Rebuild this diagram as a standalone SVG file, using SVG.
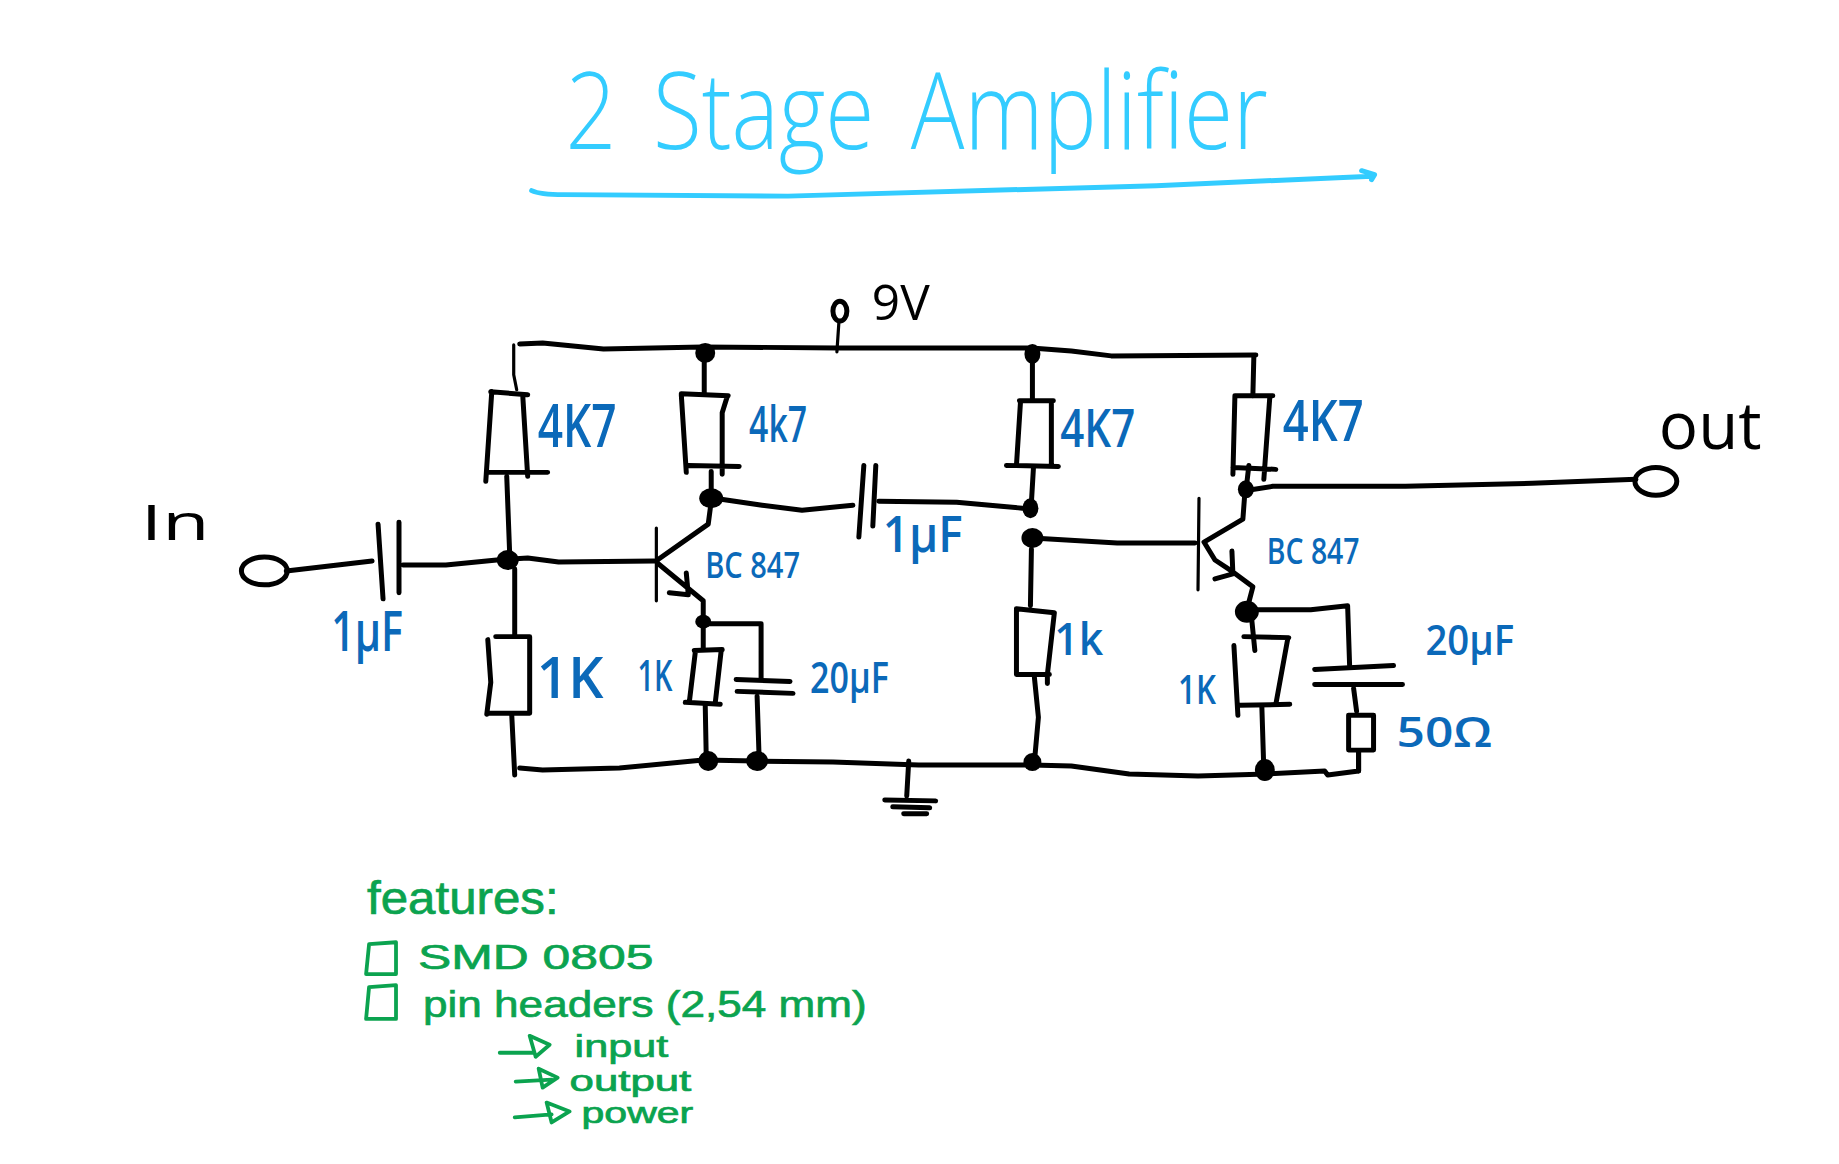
<svg xmlns="http://www.w3.org/2000/svg" width="1839" height="1164" viewBox="0 0 1839 1164">
<style>
text{font-family:"Open Sans","Liberation Sans",sans-serif}
.w,.t,.c,.g{fill:none;stroke-linecap:round;stroke-linejoin:round}
.w{stroke:#000;stroke-width:5}
.t{stroke:#000;stroke-width:3.2}
.c{stroke:#33ccff;stroke-width:5}
.g{stroke:#0ba34f;stroke-width:3.8}
.d{fill:#000}
.k{fill:#000;font-weight:400}
.b{fill:#0b69b9;font-weight:600}
.gn{fill:#0ba34f;font-family:"Liberation Sans",sans-serif;stroke:#0ba34f;stroke-width:.7}
.ti{fill:#33ccff;font-weight:300}
</style>
<rect width="1839" height="1164" fill="#fff"/>
<g transform="matrix(.9975 0 0 .9955 1 1.5)">
<g id="title">
<text class="ti" font-size="108" x="566" y="148" word-spacing="16" textLength="704" lengthAdjust="spacingAndGlyphs">2 Stage Amplifier</text>
<path class="c" d="M532 190Q540 194 564 194L789 195.5L1158 185L1374 175.5M1364 170L1377 174L1374 179"/>
</g>
<g id="connectors">
<path class="w" d="M520 344L543 343L604 349L703 347L839 348L1033 348L1073 351L1113 356L1258 355"/>
<path class="t" d="M514 345L514 375L517 390"/>
<path class="w" d="M507 477L510 556M515 570L515 638M512 716L515 777"/>
<path class="w" d="M520 770L543 772L620 770L704 762L757 763L834 764L920 767L1033 767L1073 768L1131 776L1200 778L1269 776L1327 773L1330 777L1361 773L1361 753"/>
<path class="w" d="M286 572L372 562M403 566L446 566L497 561L528 559L559 563L655 562"/>
<path class="w" d="M705 356L705 393M712 472L712 502M712 499L722 500L763 506L803 511L854 506M880 502L958 503L1024 509"/>
<path class="w" d="M704 623L704 650M704 625L762 625L762 680M706 707L707 759M758 698L760 759"/>
<path class="w" d="M1034 361L1034 399M1035 469L1033 503M1033 550L1032 607M1036 679L1040 719L1036 764"/>
<path class="w" d="M1034 539L1119 544L1197 544"/>
<path class="w" d="M1256 356L1255 396M1251 466L1248 492M1250 491L1275 487L1408 487L1535 484L1639 480"/>
<path class="w" d="M1249 611L1313 611L1350 607L1352 667M1356 690L1359 713M1254 622L1257 652M1264 708L1266 772"/>
<path class="t" d="M840 322L838 352"/>
</g>
<g id="junctions">
<ellipse class="d" cx="706" cy="353" rx="10" ry="10"/>
<ellipse class="d" cx="1034" cy="354" rx="8" ry="10"/>
<ellipse class="d" cx="508" cy="561" rx="11" ry="10"/>
<ellipse class="d" cx="712" cy="499" rx="12" ry="10"/>
<ellipse class="d" cx="704" cy="623" rx="8" ry="7"/>
<ellipse class="d" cx="1032" cy="509" rx="8" ry="10"/>
<ellipse class="d" cx="1034" cy="539" rx="11" ry="10"/>
<ellipse class="d" cx="1248" cy="490" rx="8" ry="9"/>
<ellipse class="d" cx="1249" cy="613" rx="12" ry="11"/>
<ellipse class="d" cx="709" cy="763" rx="10" ry="10"/>
<ellipse class="d" cx="758" cy="763" rx="11" ry="10"/>
<ellipse class="d" cx="1034" cy="764" rx="9" ry="9"/>
<ellipse class="d" cx="1267" cy="772" rx="10" ry="11"/>
</g>
<g id="in-terminal">
<ellipse class="w" cx="264" cy="572" rx="23" ry="14"/>
<text class="k" font-size="50" x="140" y="541" textLength="69" lengthAdjust="spacingAndGlyphs">In</text>
</g>
<g id="vcc-terminal">
<ellipse class="w" cx="841" cy="311" rx="7" ry="10"/>
<text class="k" font-size="50" x="873" y="320" textLength="58" lengthAdjust="spacingAndGlyphs">9V</text>
</g>
<g id="out-terminal">
<ellipse class="w" cx="1659" cy="482" rx="21" ry="14"/>
<text class="k" font-size="66" x="1662" y="450" textLength="103" lengthAdjust="spacingAndGlyphs">out</text>
</g>
<g id="c1">
<path class="w" d="M378 525L383 600M399 523L399 594"/>
<text class="b" font-size="56" x="331" y="652" textLength="72" lengthAdjust="spacingAndGlyphs">1µF</text>
</g>
<g id="r1">
<path class="w" d="M491 392L528 395M492 392L486 482M523 395L528 477M488 473L548 473"/>
<text class="b" font-size="60" x="538" y="448" textLength="79" lengthAdjust="spacingAndGlyphs">4K7</text>
</g>
<g id="r2">
<path class="w" d="M496 638L530 638M488 641L491 684L487 716M530 638L530 715M488 715L530 715"/>
<text class="b" font-size="58" x="537" y="700" textLength="67" lengthAdjust="spacingAndGlyphs">1K</text>
</g>
<g id="r3">
<path class="w" d="M682 394L729 396M682 395L687 473M728 397L723 413L723 475M689 466L740 467"/>
<text class="b" font-size="50" x="750" y="443" textLength="58" lengthAdjust="spacingAndGlyphs">4k7</text>
</g>
<g id="q1">
<path class="t" d="M657 529L657 602"/>
<path class="w" d="M658 561L709 525L712 502M658 564L704 602L704 623M687 574L689 596L670 594"/>
<text class="b" font-size="36" x="706" y="579" textLength="95" lengthAdjust="spacingAndGlyphs">BC 847</text>
</g>
<g id="r4">
<path class="w" d="M695 652L723 651M696 654L690 704M722 652L716 705M686 704L721 706"/>
<text class="b" font-size="44" x="638" y="693" textLength="35" lengthAdjust="spacingAndGlyphs">1K</text>
</g>
<g id="c2">
<path class="w" d="M737 681L791 683M738 693L794 695"/>
<text class="b" font-size="44" x="811" y="695" textLength="79" lengthAdjust="spacingAndGlyphs">20µF</text>
</g>
<g id="c3">
<path class="w" d="M865 466L860 538M877 466L874 527"/>
<text class="b" font-size="50" x="884" y="553" textLength="80" lengthAdjust="spacingAndGlyphs">1µF</text>
</g>
<g id="r5">
<path class="w" d="M1021 401L1055 401M1022 403L1018 466M1053 401L1053 466M1008 466L1060 467"/>
<text class="b" font-size="52" x="1062" y="448" textLength="75" lengthAdjust="spacingAndGlyphs">4K7</text>
</g>
<g id="r6">
<path class="w" d="M1018 610L1018 676M1018 610L1056 614L1049 676L1049 685M1018 676L1051 676"/>
<text class="b" font-size="46" x="1056" y="656" textLength="49" lengthAdjust="spacingAndGlyphs">1k</text>
</g>
<g id="r7">
<path class="w" d="M1237 396L1275 396M1237 396L1235 475M1272 397L1266 480M1235 468L1278 470"/>
<text class="b" font-size="58" x="1285" y="441" textLength="81" lengthAdjust="spacingAndGlyphs">4K7</text>
</g>
<g id="q2">
<path class="t" d="M1201 499L1200 591"/>
<path class="w" d="M1206 543L1245 520L1247 493M1206 543L1217 561L1235 573L1255 588L1249 611M1234 552L1235 575L1217 580"/>
<text class="b" font-size="36" x="1269" y="565" textLength="93" lengthAdjust="spacingAndGlyphs">BC 847</text>
</g>
<g id="r8">
<path class="w" d="M1246 638L1291 639M1290 640L1278 706M1236 647L1240 717M1242 707L1292 706"/>
<text class="b" font-size="40" x="1180" y="706" textLength="38" lengthAdjust="spacingAndGlyphs">1K</text>
</g>
<g id="c4">
<path class="w" d="M1317 671L1396 667M1317 686L1405 686"/>
<text class="b" font-size="42" x="1428" y="656" textLength="89" lengthAdjust="spacingAndGlyphs">20µF</text>
</g>
<g id="r9">
<path class="w" d="M1351 717L1376 717L1376 752L1351 752ZM1361 753L1361 773"/>
<text class="b" font-size="42" x="1399" y="749" textLength="96" lengthAdjust="spacingAndGlyphs">50Ω</text>
</g>
<g id="ground">
<path class="w" d="M910 763L908 798M886 802L937 803M894 809L931 810M905 816L928 816"/>
</g>
<g id="features">
<text class="gn" font-size="46" x="367" y="917" textLength="192" lengthAdjust="spacingAndGlyphs">features:</text>
<path class="g" d="M369 947L396 945L396 977L366 977L369 947M369 990L396 988L396 1022L366 1022L369 990"/>
<text class="gn" font-size="36" x="418" y="972" textLength="236" lengthAdjust="spacingAndGlyphs">SMD 0805</text>
<text class="gn" font-size="38" x="423" y="1020" textLength="445" lengthAdjust="spacingAndGlyphs">pin headers (2,54 mm)</text>
<path class="g" d="M500 1056L534 1056M530 1039L550 1048L536 1060ZM516 1085L552 1083M539 1072L558 1081L543 1091ZM515 1121L552 1118M547 1106L570 1115L552 1126Z"/>
<text class="gn" font-size="32" x="575" y="1060" textLength="94" lengthAdjust="spacingAndGlyphs">input</text>
<text class="gn" font-size="29" x="570" y="1094" textLength="122" lengthAdjust="spacingAndGlyphs">output</text>
<text class="gn" font-size="29" x="582" y="1127" textLength="112" lengthAdjust="spacingAndGlyphs">power</text>
</g>
</g>
</svg>
